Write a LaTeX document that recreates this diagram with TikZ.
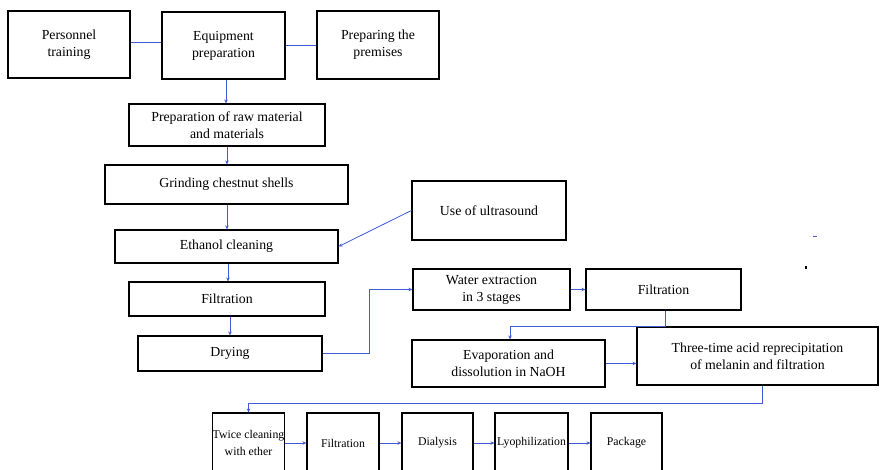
\documentclass[tikz,border=0pt]{standalone}
\usepackage{fontspec}
\setmainfont{Liberation Serif}
\usetikzlibrary{arrows.meta}
\definecolor{conn}{RGB}{65,90,215}
\tikzset{
  box/.style={draw=black, line width=1.2pt, rectangle, align=center, inner sep=2pt,
    font=\fontsize{13.8}{17}\selectfont},
  smallbox/.style={box, inner xsep=0pt, minimum height=60, font=\fontsize{11.8}{17}\selectfont},
  link/.style={draw=conn, line width=0.8pt},
  arr/.style={link, -{Stealth[length=4pt,width=3.5pt]}}
}
\begin{document}
\begin{tikzpicture}[x=1pt,y=-1pt]
\useasboundingbox (0,0) rectangle (880,469);
\clip (0,0) rectangle (880,469);
\fill[white] (0,0) rectangle (880,469);
% nodes
\node[box, minimum width=122, minimum height=67] (pers) at (69,44.5) {Personnel\\training};
\node[box, minimum width=123, minimum height=67] (equip) at (223.5,45.5) {Equipment\\preparation};
\node[box, minimum width=122, minimum height=68] (prem) at (378,45) {Preparing the\\premises};
\node[box, minimum width=196, minimum height=42] (raw) at (227,125) {Preparation of raw material\\and materials};
\node[box, minimum width=243, minimum height=39] (grind) at (226.5,184.5) {Grinding chestnut shells};
\node[box, minimum width=154, minimum height=59] (ultra) at (489,210.5) {Use of ultrasound};
\node[box, minimum width=223, minimum height=33] (eth) at (226.5,246.5) {Ethanol cleaning};
\node[box, minimum width=196, minimum height=34] (filt1) at (227,299) {Filtration};
\node[box, minimum width=184, minimum height=35] (dry) at (230,353.5) {Drying};
\node[box, minimum width=157, minimum height=41] (water) at (491.5,289.5) {Water extraction\\in 3 stages};
\node[box, minimum width=155, minimum height=41] (filt2) at (663.5,289.5) {Filtration};
\node[box, minimum width=193, minimum height=47] (evap) at (508.5,363.5) {Evaporation and\\dissolution in NaOH};
\node[box, minimum width=241, minimum height=58] (three) at (757.5,356) {Three-time acid reprecipitation\\of melanin and filtration};
\node[smallbox, minimum width=71] (twice) at (248.5,443) {Twice cleaning\\with ether};
\node[smallbox, minimum width=72] (filt3) at (343,443) {Filtration};
\node[smallbox, minimum width=71] (dial) at (437.5,443) {Dialysis};
\node[smallbox, minimum width=73] (lyo) at (531.5,443) {Lyophilization};
\node[smallbox, minimum width=71] (pack) at (626.5,443) {Package};
% connectors
\draw[link] ([yshift=2]pers.east) -- ([yshift=2]pers.east -| equip.west);
\draw[link] (equip.east) -- (equip.east -| prem.west);
\draw[arr] ([xshift=2.5]equip.south) -- ([xshift=-1]raw.north);
\draw[arr] (raw.south) -- (grind.north -| raw.south);
\draw[arr] ([xshift=0.5]grind.south) -- ([xshift=0.5]eth.north);
\draw[arr] ([xshift=1.5]eth.south) -- ([xshift=1.5]eth.south |- filt1.north);
\draw[arr] (dry.north |- filt1.south) -- (dry.north);
\draw[arr] (ultra.west) -- (eth.east);
\draw[arr] (dry.east) -- ++(47,0) |- (water.west);
\draw[arr] (water.east) -- (filt2.west);
\draw[arr] ([xshift=1.5]filt2.south) -- ++(0,16) -| ([xshift=1.5]evap.north);
\draw[arr] (evap.east) -- (evap.east -| three.west);
\draw[arr] ([xshift=4.5]three.south) -- ++(0,18) -| (twice.north);
\draw[arr] (twice.east) -- (filt3.west);
\draw[arr] (filt3.east) -- (dial.west);
\draw[arr] (dial.east) -- (lyo.west);
\draw[arr] (lyo.east) -- (pack.west);
% stray marks
\fill[conn] (813,235.5) rectangle (817,237);
\fill[black] (804.5,266) rectangle (807,268.5);
\end{tikzpicture}
\end{document}
